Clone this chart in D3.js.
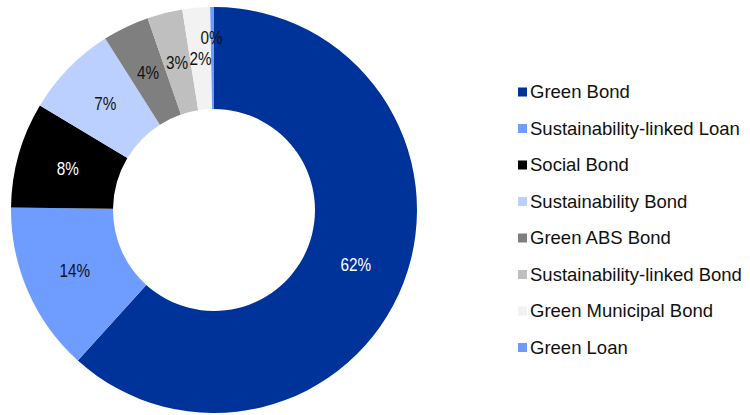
<!DOCTYPE html>
<html>
<head>
<meta charset="utf-8">
<script src="https://cdnjs.cloudflare.com/ajax/libs/d3/7.8.5/d3.min.js"></script>
<style>
  body { margin: 0; background: #fff; }
  text { font-family: "Liberation Sans", Arial, sans-serif; }
</style>
</head>
<body>
<div id="chart"></div>
<script>
var categories = ["Green Bond", "Sustainability-linked Loan", "Social Bond", "Sustainability Bond",
                  "Green ABS Bond", "Sustainability-linked Bond", "Green Municipal Bond", "Green Loan"];
var values = [61.7, 13.5, 8.4, 7.4, 3.7, 2.8, 2.2, 0.3];
var colors = ["#003399", "#6f9dff", "#000000", "#bcd0ff", "#7f7f7f", "#bfbfbf", "#f2f2f2", "#6b9bff"];
var labelColors = ["#fff", "#111", "#fff", "#111", "#111", "#111", "#111", "#111"];

var width = 750, height = 415;
var cx = 214, cy = 210;
var outerR = 203, innerR = 101;

var svg = d3.select('#chart')
  .append('svg')
  .attr('width', width)
  .attr('height', height);

var g = svg.append('g')
  .attr('transform', 'translate(' + cx + ',' + cy + ')');

var pie = d3.pie().value(function(d) { return d; }).sort(null);
var arc = d3.arc().innerRadius(innerR).outerRadius(outerR);

var arcs = pie(values);

g.selectAll('path')
  .data(arcs)
  .enter()
  .append('path')
  .attr('d', arc)
  .attr('fill', function(d, i) { return colors[i]; });

g.selectAll('.lbl')
  .data(arcs)
  .enter()
  .append('text')
  .attr('class', 'lbl')
  .attr('transform', function(d, i) {
    var c = arc.centroid(d);
    // tiny last slice label sits a bit further out
    if (i === arcs.length - 1) c = [c[0] - 1, c[1] - 20];
    return 'translate(' + c[0] + ',' + c[1] + ') scale(0.85,1)';
  })
  .attr('text-anchor', 'middle')
  .attr('dy', '0.35em')
  .style('font-size', '18px')
  .attr('fill', function(d, i) { return labelColors[i]; })
  .text(function(d) { return Math.round(d.data) + '%'; });

var legendX = 518, legendY = 92, legendStep = 36.5, box = 9;

var legend = svg.selectAll('.legend')
  .data(categories)
  .enter()
  .append('g')
  .attr('class', 'legend')
  .attr('transform', function(d, i) {
    return 'translate(' + legendX + ',' + (legendY + i * legendStep) + ')';
  });

legend.append('rect')
  .attr('x', 0)
  .attr('y', -box / 2)
  .attr('width', box)
  .attr('height', box)
  .style('fill', function(d, i) { return colors[i]; });

legend.append('text')
  .attr('x', 12)
  .attr('dy', '0.35em')
  .style('font-size', '18.5px')
  .attr('fill', '#111')
  .text(function(d) { return d; });
</script>
</body>
</html>
